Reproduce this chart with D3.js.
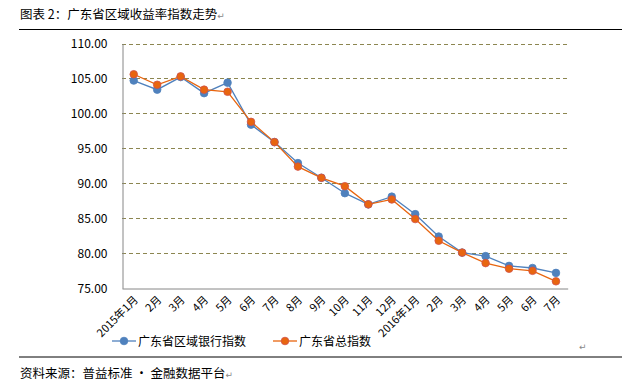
<!DOCTYPE html>
<html>
<head>
<meta charset="utf-8">
<script src="https://cdn.jsdelivr.net/npm/d3@7"></script>
<style>
  body { margin: 0; background: #fff; }
  text { font-family: "Noto Sans CJK SC", "DejaVu Sans", sans-serif; }
</style>
</head>
<body>
<div id="visual"></div>
<script>
let months = ["2015年1月", "2月", "3月", "4月", "5月", "6月", "7月", "8月", "9月", "10月", "11月", "12月",
    "2016年1月", "2月", "3月", "4月", "5月", "6月", "7月"]
let bankIndex = [104.7, 103.4, 105.2, 102.9, 104.4, 98.4, 95.9, 92.9, 90.8, 88.6, 87.0, 88.1,
    85.6, 82.4, 80.1, 79.6, 78.2, 77.9, 77.2]
let totalIndex = [105.6, 104.1, 105.3, 103.4, 103.1, 98.8, 95.9, 92.4, 90.8, 89.6, 87.0, 87.7,
    84.9, 81.8, 80.1, 78.6, 77.8, 77.5, 76.0]
let yTicks = [75, 80, 85, 90, 95, 100, 105, 110]
let seriesNames = ["广东省区域银行指数", "广东省总指数"]

let width = 636, height = 387
let plot = { left: 122, right: 567.7, top: 43.5, bottom: 288.3 }

let svg = d3.select("#visual").append("svg")
    .attr("width", width)
    .attr("height", height)

// title + rules
let title = svg.append("text").attr("x", 20).attr("y", 19)
    .attr("font-size", 12.5).attr("fill", "#000")
title.append("tspan").text("图表 2：广东省区域收益率指数走势")
title.append("tspan").attr("font-size", 9).attr("fill", "#888").text("↵")

svg.append("line").attr("x1", 19).attr("x2", 622).attr("y1", 29.5).attr("y2", 29.5)
    .attr("stroke", "#000").attr("stroke-width", 1)
svg.append("line").attr("x1", 19).attr("x2", 622).attr("y1", 357).attr("y2", 357)
    .attr("stroke", "#000").attr("stroke-width", 1)

let source = svg.append("text").attr("x", 20).attr("y", 378)
    .attr("font-size", 12.5).attr("fill", "#000")
source.append("tspan").text("资料来源：普益标准 · 金融数据平台")
source.append("tspan").attr("font-size", 9).attr("fill", "#888").text("↵")

svg.append("text").attr("x", 579).attr("y", 350)
    .attr("font-size", 9).attr("fill", "#888").text("↵")

let x = d3.scaleBand()
    .domain(months.map((d, i) => i))
    .range([plot.left, plot.right])
let y = d3.scaleLinear()
    .domain([75, 110])
    .range([plot.bottom, plot.top])

// gridlines
svg.selectAll("grid")
    .data(yTicks.filter(d => d > 75))
    .enter()
    .append("line")
    .attr("x1", plot.left)
    .attr("x2", plot.right)
    .attr("y1", d => Math.round(y(d)) + 0.5)
    .attr("y2", d => Math.round(y(d)) + 0.5)
    .attr("stroke", "#8c8650")
    .attr("stroke-width", 1)
    .attr("stroke-dasharray", "4,3")

// y axis
let yAxis = svg.append("g")
    .attr("transform", "translate(" + (Math.round(plot.left) + 0.5) + ",0)")
    .call(d3.axisLeft(y).tickValues(yTicks).tickSize(0).tickPadding(15).tickFormat(d3.format(".2f")))
yAxis.select(".domain").attr("stroke", "#868686")
yAxis.selectAll("text").attr("font-size", 12).attr("fill", "#000")
    .attr("font-family", "'Liberation Sans', Arial, sans-serif")

// x axis
let xAxis = svg.append("g")
    .attr("transform", "translate(0," + (Math.round(plot.bottom) + 0.5) + ")")
    .call(d3.axisBottom(x).tickSize(0).tickFormat(i => months[i]))
xAxis.select(".domain").attr("stroke", "#868686")
xAxis.selectAll("text")
    .attr("font-size", 11)
    .attr("fill", "#000")
    .attr("text-anchor", "end")
    .attr("dy", 0)
    .attr("y", 0)
    .attr("transform", "translate(5,12) rotate(-45)")

let line = d3.line()
    .x((d, i) => x(i) + x.bandwidth() / 2)
    .y(d => y(d))

let series = [
    { name: seriesNames[0], values: bankIndex, color: "#4f81bd", stroke: "#4f81bd" },
    { name: seriesNames[1], values: totalIndex, color: "#e8650f", stroke: "#d0504a" }
]

series.forEach(s => {
    svg.append("path")
        .datum(s.values)
        .attr("fill", "none")
        .attr("stroke", s.color)
        .attr("stroke-width", 1.3)
        .attr("d", line)
    svg.selectAll("dot")
        .data(s.values)
        .enter()
        .append("circle")
        .attr("cx", (d, i) => x(i) + x.bandwidth() / 2)
        .attr("cy", d => y(d))
        .attr("r", 3.8)
        .attr("fill", s.color)
        .attr("stroke", s.stroke)
        .attr("stroke-width", 0.8)
})

// legend
let legendX = [112, 273]
series.forEach((s, i) => {
    let g = svg.append("g").attr("transform", "translate(" + legendX[i] + ",341)")
    g.append("line").attr("x1", 0).attr("x2", 24).attr("y1", 0).attr("y2", 0)
        .attr("stroke", s.color).attr("stroke-width", 1.3)
    g.append("circle").attr("cx", 12).attr("cy", 0).attr("r", 3.8)
        .attr("fill", s.color).attr("stroke", s.stroke).attr("stroke-width", 0.8)
    g.append("text").attr("x", 26).attr("y", 4.5)
        .attr("font-size", 12).attr("fill", "#000")
        .text(s.name)
})
</script>
</body>
</html>
